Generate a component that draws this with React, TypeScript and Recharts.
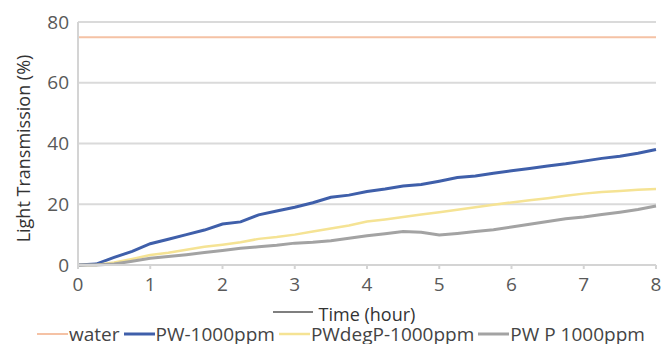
import { LineChart, Line, XAxis, YAxis, CartesianGrid } from 'recharts';

const hours = [0, 0.25, 0.5, 0.75, 1, 1.25, 1.5, 1.75, 2, 2.25, 2.5, 2.75, 3, 3.25, 3.5, 3.75, 4, 4.25, 4.5, 4.75, 5, 5.25, 5.5, 5.75, 6, 6.25, 6.5, 6.75, 7, 7.25, 7.5, 7.75, 8];
const water = [75, 75, 75, 75, 75, 75, 75, 75, 75, 75, 75, 75, 75, 75, 75, 75, 75, 75, 75, 75, 75, 75, 75, 75, 75, 75, 75, 75, 75, 75, 75, 75, 75];
const pw = [0, 0.3, 2.5, 4.5, 7, 8.5, 10, 11.5, 13.5, 14.2, 16.5, 17.8, 19, 20.5, 22.3, 23, 24.2, 25, 26, 26.5, 27.6, 28.8, 29.3, 30.2, 31, 31.8, 32.6, 33.3, 34.2, 35.1, 35.8, 36.8, 38];
const pwDegP = [0, 0, 0.8, 2, 3.3, 4, 5, 6, 6.7, 7.5, 8.6, 9.2, 10, 11, 12, 13, 14.3, 15, 15.8, 16.6, 17.4, 18.2, 19, 19.8, 20.6, 21.3, 22, 22.8, 23.5, 24, 24.4, 24.8, 25];
const pwP = [0, 0, 0.3, 1.2, 2.2, 2.8, 3.4, 4.1, 4.8, 5.5, 6, 6.5, 7.2, 7.5, 8, 8.8, 9.6, 10.3, 11, 10.8, 9.9, 10.4, 11, 11.6, 12.5, 13.4, 14.3, 15.2, 15.8, 16.6, 17.4, 18.3, 19.4];
const xTicks = [0, 1, 2, 3, 4, 5, 6, 7, 8];
const yTicks = [0, 20, 40, 60, 80];

const data = hours.map((h, i) => ({ h, water: water[i], pw: pw[i], pwDegP: pwDegP[i], pwP: pwP[i] }));

const series = [
  { key: 'water', name: 'water', color: '#F5C2A5', width: 2 },
  { key: 'pw', name: 'PW-1000ppm', color: '#3F5FAA', width: 3 },
  { key: 'pwDegP', name: 'PWdegP-1000ppm', color: '#F5E394', width: 2.5 },
  { key: 'pwP', name: 'PW P 1000ppm', color: '#A3A3A3', width: 3 },
];

const font = '"Open Sans", sans-serif';

// legend drawn by hand below the plot so icons sit right against the text like the original
const LegendRow = () => (
  <div style={{ position: 'absolute', left: 0, top: 324, height: 20, display: 'flex', alignItems: 'center', paddingLeft: 37, fontFamily: font, fontSize: 19, lineHeight: '20px', color: '#444', whiteSpace: 'nowrap' }}>
    {series.map((s) => (
      <div key={s.key} style={{ display: 'flex', flexShrink: 0, alignItems: 'center', marginRight: 4 }}>
        <svg width={31} height={10} style={{ flexShrink: 0 }}>
          <line x1={0} y1={5} x2={31} y2={5} stroke={s.color} strokeWidth={s.width} />
        </svg>
        <span style={{ marginLeft: 1, flexShrink: 0 }}>{s.name}</span>
      </div>
    ))}
  </div>
);

// axis title, with the short stray dash that sits just left of it in the original
const TimeLabel = (props: any) => {
  const vb = props.viewBox;
  const cx = vb.x + vb.width / 2;
  return (
    <g>
      <line x1={cx - 94} y1={312} x2={cx - 54} y2={312} stroke="#555" strokeWidth={1.5} />
      <text x={cx} y={321} textAnchor="middle" fontSize={18} fill="#333" fontFamily={font}>
        Time (hour)
      </text>
    </g>
  );
};

export default function App() {
  return (
    <div style={{ position: 'absolute', left: 0, top: 0, width: 666, height: 344, background: '#fff' }}>
      <LineChart width={666} height={344} data={data} margin={{ top: 22, right: 10, left: 0, bottom: 28 }}>
        <CartesianGrid vertical={false} stroke="#DADADA" strokeWidth={2} />
        <XAxis
          dataKey="h"
          type="number"
          domain={[0, 8]}
          ticks={xTicks}
          height={51}
          stroke="#D4D4D4"
          strokeWidth={2}
          tickSize={4}
          tickMargin={9}
          tick={{ fontSize: 19, fill: '#595959', fontFamily: font }}
          label={<TimeLabel />}
        />
        <YAxis
          domain={[0, 80]}
          ticks={yTicks}
          width={78}
          stroke="#D4D4D4"
          strokeWidth={2}
          tickLine={false}
          tickSize={0}
          tickMargin={9}
          tick={{ fontSize: 19, fill: '#595959', fontFamily: font }}
          label={{ value: 'Light Transmission (%)', angle: -90, position: 'insideLeft', offset: 24, dy: 5, fontSize: 18, fill: '#333', fontFamily: font, style: { textAnchor: 'middle' } }}
        />
        {series.map((s) => (
          <Line
            key={s.key}
            dataKey={s.key}
            name={s.name}
            stroke={s.color}
            strokeWidth={s.width}
            dot={false}
            type="linear"
            isAnimationActive={false}
          />
        ))}
      </LineChart>
      <LegendRow />
    </div>
  );
}
